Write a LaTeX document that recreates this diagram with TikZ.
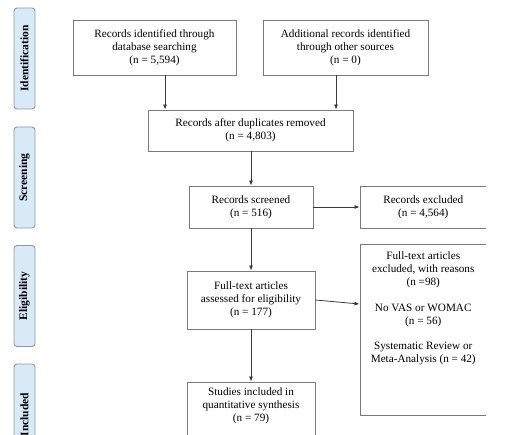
\documentclass[tikz,border=0pt]{standalone}
\usepackage{fontspec}
\setmainfont{Liberation Serif}
\usetikzlibrary{arrows.meta,calc}
\definecolor{lblfill}{HTML}{D8EAF8}
\definecolor{lbldraw}{HTML}{8C98A4}
\definecolor{boxdraw}{HTML}{7A7A7A}
\definecolor{arrcol}{HTML}{3A3A3A}
\tikzset{
  box/.style={draw=boxdraw, line width=0.9pt, fill=white, inner sep=0pt, align=center, font=\fontsize{11.2}{13.2}\selectfont},
  phase/.style={draw=lbldraw, fill=lblfill, line width=0.9pt, rounded corners=3pt, minimum width=21pt, minimum height=101pt, inner sep=0pt},
  phasetext/.style={rotate=90, font=\fontsize{11.5}{13}\selectfont\bfseries},
  txt/.style={align=center, inner sep=0pt, font=\fontsize{11.2}{13.2}\selectfont},
  arr/.style={draw=arrcol, line width=0.8pt, -{Latex[length=5pt,width=4pt]}}
}
\begin{document}
\begin{tikzpicture}[x=1pt,y=-1pt]
\useasboundingbox (0,0) rectangle (510,435);
\begin{scope}
\clip (0,0) rectangle (485.8,435);
% phase labels
\node[phase] (pid) at (24.5,58.5) {};
\node[phasetext] (tid) at (pid.center) {Identification};
\node[phase] (psc) at (24.5,177.5) {};
\node[phasetext] (tsc) at (psc.center) {Screening};
\node[phase] (pel) at (24.5,296) {};
\node[phasetext] (tel) at (pel.center) {Eligibility};
\node[phase] (pin) at (24.5,414.5) {};
\node[phasetext] (tin) at (pin.center) {Included};
% boxes
\node[box, minimum width=163pt, minimum height=55pt] (b1) at (154.5,47.5) {Records identified through\\database searching\\(n = 5,594)};
\node[box, minimum width=165pt, minimum height=55pt] (b2) at (345.5,47.5) {Additional records identified\\through other sources\\(n = 0)};
\node[box, minimum width=205pt, minimum height=41pt] (b3) at (250.5,130.5) {Records after duplicates removed\\(n = 4,803)};
\node[box, minimum width=124pt, minimum height=42pt] (b4) at (251,207) {Records screened\\(n = 516)};
\node[box, minimum width=126.5pt, minimum height=42pt] (b5) at (423.25,207) {Records excluded\\(n = 4,564)};
\node[box, minimum width=128pt, minimum height=58pt] (b6) at (251,300) {Full-text articles\\assessed for eligibility\\(n = 177)};
\node[box, minimum width=126.5pt, minimum height=171pt] (b7) at (423.25,329.5) {};
\node[txt, anchor=north] (t7) at ($(b7.north)+(0,8)$) {Full-text articles\\excluded, with reasons\\(n =98)\\[12pt]No VAS or WOMAC\\(n = 56)\\[12pt]Systematic Review or\\Meta-Analysis (n = 42)};
\node[box, minimum width=128pt, minimum height=78pt] (b8) at (251,421) {};
\node[txt, anchor=north] (t8) at ($(b8.north)+(0,6)$) {Studies included in\\quantitative synthesis\\(n = 79)};
% connectors
\coordinate (c1) at (165,0);
\coordinate (c2) at (336,0);
\coordinate (c3) at (0,304);
\draw[arr] (b1.south -| c1) -- (b3.north -| c1);
\draw[arr] (b2.south -| c2) -- (b3.north -| c2);
\draw[arr] (b3.south -| b4.north) -- (b4.north);
\draw[arr] (b4.east) -- (b5.west);
\draw[arr] (b4.south) -- (b6.north);
\draw[arr] (b6.east) -- (b7.west |- c3);
\draw[arr] (b6.south) -- (b8.north);
\end{scope}
\end{tikzpicture}
\end{document}
